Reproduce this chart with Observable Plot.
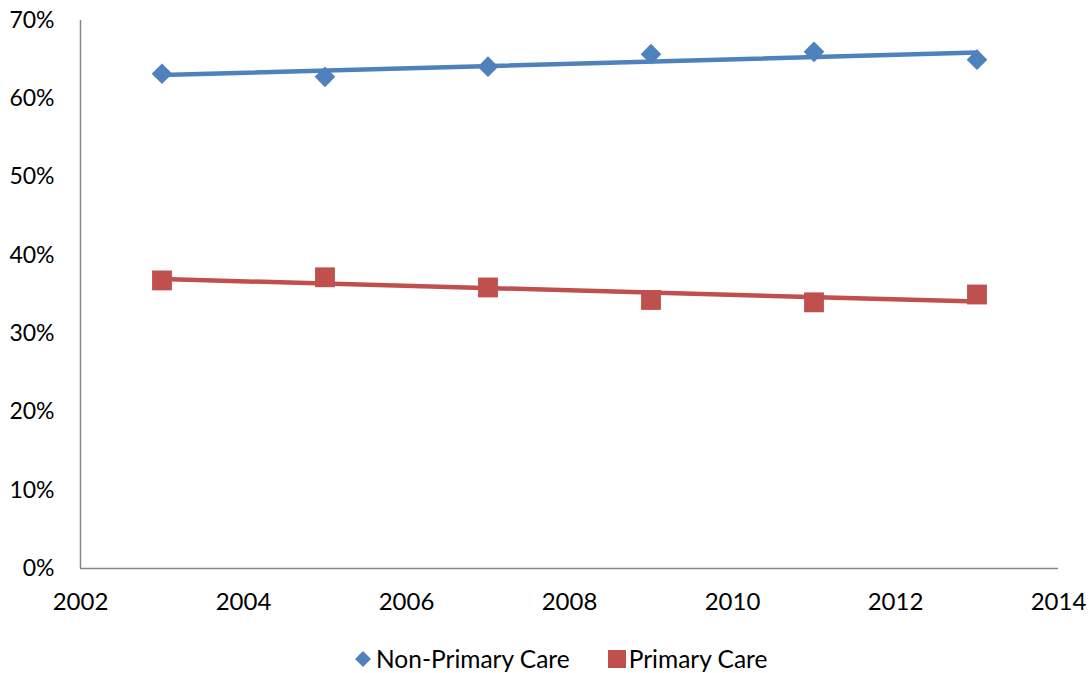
<!DOCTYPE html>
<html>
<head>
<meta charset="utf-8">
<script src="https://cdn.jsdelivr.net/npm/d3@7"></script>
<script src="https://cdn.jsdelivr.net/npm/@observablehq/plot@0.6"></script>
<style>
  body { margin: 0; background: #fff; font-family: Lato, "Open Sans", sans-serif; position: relative; width: 1091px; height: 673px; overflow: hidden; }
  #legend { position: absolute; left: 355px; top: 645px; height: 28px; display: flex; align-items: center; font-size: 24.5px; color: #000; line-height: 28px; }
  .item { display: flex; align-items: center; }
  .item span { margin-left: 5px; }
  .item + .item { margin-left: 38px; }
  .item + .item span { margin-left: 3px; }
</style>
</head>
<body>
<div id="chart"></div>
<div id="legend"></div>
<script>
const years = [2003, 2005, 2007, 2009, 2011, 2013];
const nonPrimary = [0.632, 0.628, 0.641, 0.657, 0.660, 0.650];
const primary = [0.368, 0.372, 0.359, 0.343, 0.340, 0.350];
const seriesNames = ["Non-Primary Care", "Primary Care"];
const colors = ["#4F81BD", "#C0504D"];
const xTicks = [2002, 2004, 2006, 2008, 2010, 2012, 2014];
const yTicks = [0, 0.1, 0.2, 0.3, 0.4, 0.5, 0.6, 0.7];

const npData = years.map((y, i) => ({year: y, value: nonPrimary[i]}));
const pData = years.map((y, i) => ({year: y, value: primary[i]}));

const chart = Plot.plot({
  width: 1091,
  height: 625,
  marginLeft: 80,
  marginRight: 33,
  marginTop: 20,
  marginBottom: 57,
  style: {fontFamily: "Lato, 'Open Sans', sans-serif", fontSize: "23px", color: "#000", background: "#fff"},
  x: {domain: [2002, 2014], ticks: xTicks, tickFormat: d => String(d), tickSize: 0, tickPadding: 24, label: null},
  y: {domain: [0, 0.7], ticks: yTicks, tickFormat: d3.format(".0%"), tickSize: 0, tickPadding: 26, label: null},
  marks: [
    Plot.ruleX([2002], {stroke: "#868686", strokeWidth: 1.5}),
    Plot.ruleY([0], {stroke: "#868686", strokeWidth: 1.5}),
    Plot.dot(npData, {x: "year", y: "value", symbol: "diamond2", r: 9.3, fill: colors[0], stroke: "none"}),
    Plot.dot(pData, {x: "year", y: "value", symbol: "square", r: 11.2, fill: colors[1], stroke: "none"}),
    Plot.linearRegressionY(npData, {x: "year", y: "value", stroke: colors[0], strokeWidth: 4.5, ci: 0}),
    Plot.linearRegressionY(pData, {x: "year", y: "value", stroke: colors[1], strokeWidth: 4.5, ci: 0})
  ]
});
chart.querySelectorAll("g[aria-label='x-axis tick label'] text").forEach(t => t.style.fontSize = "24px");
document.getElementById("chart").appendChild(chart);

const legend = document.getElementById("legend");
seriesNames.forEach((name, i) => {
  const item = document.createElement("div");
  item.className = "item";
  const sw = document.createElementNS("http://www.w3.org/2000/svg", "svg");
  sw.setAttribute("width", 18); sw.setAttribute("height", 18);
  if (i === 0) {
    sw.setAttribute("width", 16); sw.setAttribute("height", 16);
    sw.innerHTML = `<path d="M8,0 L16,8 L8,16 L0,8 Z" fill="${colors[i]}"/>`;
  } else {
    sw.innerHTML = `<rect x="0" y="0" width="18" height="18" fill="${colors[i]}"/>`;
  }
  const t = document.createElement("span");
  t.textContent = name;
  item.appendChild(sw); item.appendChild(t);
  legend.appendChild(item);
});
</script>
</body>
</html>
